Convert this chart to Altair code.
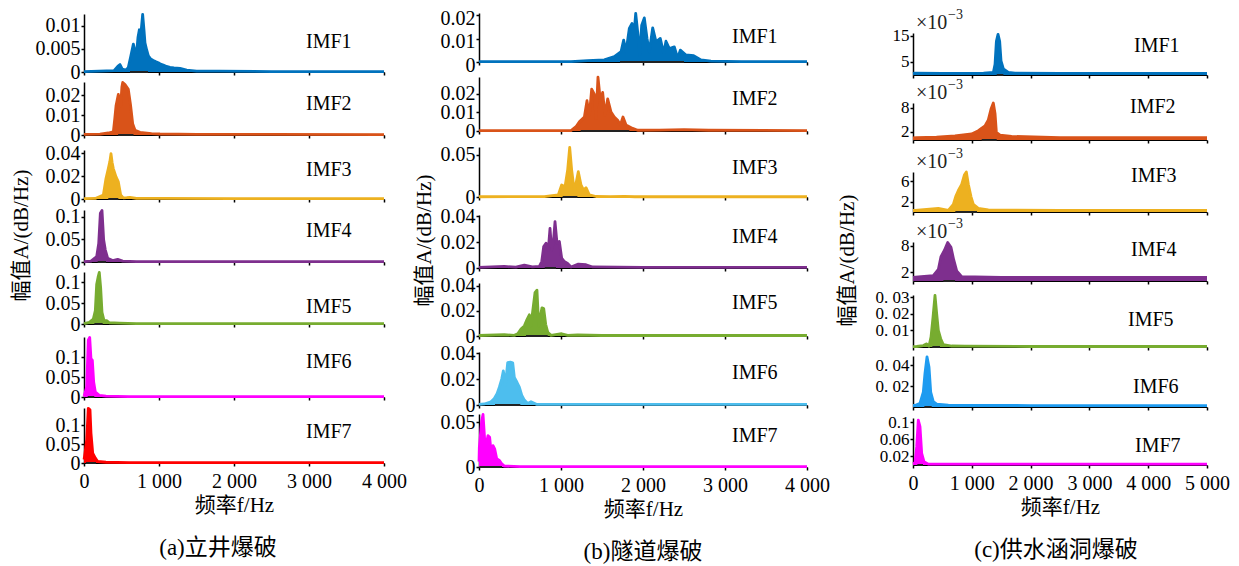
import altair as alt
import pandas as pd

# ---------------- data: (a) 立井爆破 ----------------
A1_F = [0, 200, 400, 450, 480, 510, 560, 591, 625, 658, 680, 702, 720, 738, 760, 782, 800, 813, 835, 858, 890, 924, 960, 991, 1020, 1058, 1100, 1147, 1200, 1280, 1369, 1502, 1800, 2500, 3200, 4000]
A1_A = [0.0001, 0.0002, 0.0003, 0.0012, 0.0016, 0.0006, 0.0004, 0.0010, 0.0035, 0.0060, 0.0045, 0.0042, 0.0075, 0.0091, 0.0085, 0.0124, 0.0090, 0.0063, 0.0048, 0.0035, 0.0028, 0.0025, 0.0022, 0.0020, 0.0017, 0.0015, 0.0012, 0.0010, 0.0009, 0.0008, 0.0004, 0.0002, 0.0002, 0.0001, 0.0001, 0.0001]
A2_F = [0, 213, 324, 391, 410, 427, 458, 475, 489, 505, 516, 547, 591, 622, 649, 680, 747, 900, 1013, 1500, 2500, 4000]
A2_A = [0.0003, 0.0004, 0.0010, 0.0016, 0.0080, 0.0146, 0.0203, 0.0170, 0.0146, 0.0240, 0.0263, 0.0252, 0.0228, 0.0146, 0.0057, 0.0024, 0.0013, 0.0007, 0.0005, 0.0003, 0.0003, 0.0002]
A3_F = [0, 150, 258, 293, 324, 345, 360, 375, 391, 427, 458, 489, 524, 570, 613, 700, 1000, 2000, 4000]
A3_A = [0.0004, 0.0005, 0.0035, 0.0180, 0.0267, 0.0330, 0.0397, 0.0320, 0.0267, 0.0194, 0.0150, 0.0035, 0.0010, 0.0012, 0.0015, 0.0006, 0.0005, 0.0004, 0.0003]
A4_F = [0, 93, 169, 196, 218, 240, 262, 284, 316, 382, 449, 516, 700, 1500, 4000]
A4_A = [0.001, 0.002, 0.012, 0.041, 0.108, 0.114, 0.049, 0.027, 0.008, 0.003, 0.006, 0.002, 0.001, 0.001, 0.001]
A5_F = [0, 71, 124, 151, 169, 187, 204, 222, 240, 267, 302, 338, 471, 700, 1500, 4000]
A5_A = [0.001, 0.004, 0.012, 0.032, 0.095, 0.111, 0.123, 0.087, 0.028, 0.008, 0.008, 0.003, 0.002, 0.001, 0.001, 0.001]
A6_F = [0, 4, 36, 57, 76, 93, 111, 129, 151, 204, 293, 600, 1500, 4000]
A6_A = [0.002, 0.004, 0.025, 0.142, 0.149, 0.096, 0.092, 0.0375, 0.0125, 0.004, 0.002, 0.001, 0.001, 0.001]
A7_F = [0, 4, 36, 57, 80, 93, 116, 151, 183, 293, 600, 1500, 4000]
A7_A = [0.009, 0.013, 0.061, 0.144, 0.140, 0.079, 0.026, 0.013, 0.004, 0.002, 0.001, 0.001, 0.001]
A_SEG = [[613, 853], [455, 660], [324, 458], [182, 293], [138, 249], [49, 137], [27, 160]]

# ---------------- data: (b) 隧道爆破 ----------------
B1_F = [0, 500, 1122, 1325, 1528, 1650, 1732, 1764, 1793, 1833, 1866, 1886, 1911, 1935, 1959, 1984, 2016, 2049, 2077, 2118, 2159, 2211, 2252, 2280, 2321, 2382, 2423, 2455, 2524, 2618, 2707, 2829, 3200, 4000]
B1_A = [0.0002, 0.0002, 0.0002, 0.0006, 0.0009, 0.0023, 0.0044, 0.0094, 0.0044, 0.0144, 0.0165, 0.0101, 0.0208, 0.0129, 0.0030, 0.0158, 0.0189, 0.0101, 0.0044, 0.0146, 0.0086, 0.0101, 0.0037, 0.0089, 0.0058, 0.0065, 0.0016, 0.0051, 0.0030, 0.0027, 0.0009, 0.0004, 0.0002, 0.0002]
B2_F = [0, 1000, 1122, 1183, 1224, 1285, 1317, 1346, 1374, 1406, 1427, 1451, 1480, 1508, 1537, 1569, 1610, 1650, 1691, 1724, 1756, 1793, 1874, 1935, 2200, 2500, 2800, 4000]
B2_A = [0.0002, 0.0002, 0.0002, 0.0023, 0.0049, 0.0075, 0.0163, 0.0084, 0.0225, 0.0198, 0.0067, 0.0289, 0.0163, 0.0207, 0.0084, 0.0172, 0.0102, 0.0075, 0.0058, 0.0032, 0.0075, 0.0032, 0.0014, 0.0004, 0.0005, 0.0007, 0.0004, 0.0002]
B3_F = [0, 797, 967, 1008, 1049, 1081, 1106, 1130, 1163, 1187, 1211, 1244, 1276, 1305, 1346, 1427, 1600, 1772, 1900, 4000]
B3_A = [0.0003, 0.0004, 0.0024, 0.0143, 0.0123, 0.0321, 0.0590, 0.0321, 0.0063, 0.0182, 0.0301, 0.0143, 0.0083, 0.0111, 0.0024, 0.0006, 0.0004, 0.0008, 0.0003, 0.0003]
B4_F = [0, 309, 450, 553, 650, 736, 765, 789, 817, 845, 866, 886, 906, 927, 951, 980, 1008, 1041, 1081, 1122, 1211, 1305, 1386, 2000, 4000]
B4_A = [0.0005, 0.0012, 0.0006, 0.0023, 0.0008, 0.0012, 0.0050, 0.0166, 0.0192, 0.0140, 0.0307, 0.0140, 0.0192, 0.0358, 0.0192, 0.0205, 0.0077, 0.0050, 0.0035, 0.0008, 0.0030, 0.0025, 0.0008, 0.0005, 0.0005]
B5_F = [0, 309, 431, 472, 512, 553, 585, 614, 634, 659, 683, 707, 728, 748, 768, 789, 813, 838, 878, 1008, 1081, 1203, 1500, 4000]
B5_A = [0.0004, 0.0010, 0.0005, 0.0018, 0.0055, 0.0080, 0.0130, 0.0168, 0.0080, 0.0218, 0.0343, 0.0363, 0.0080, 0.0155, 0.0223, 0.0218, 0.0093, 0.0030, 0.0005, 0.0018, 0.0005, 0.0008, 0.0004, 0.0004]
B6_F = [0, 65, 146, 187, 220, 248, 277, 297, 321, 350, 382, 411, 431, 463, 492, 521, 553, 594, 634, 700, 1500, 4000]
B6_A = [0.0005, 0.0008, 0.0025, 0.0050, 0.0088, 0.0138, 0.0200, 0.0264, 0.0151, 0.0327, 0.0332, 0.0327, 0.0214, 0.0176, 0.0138, 0.0076, 0.0038, 0.0012, 0.0025, 0.0005, 0.0005, 0.0005]
B7_F = [0, 4, 33, 49, 70, 89, 110, 130, 150, 171, 191, 216, 248, 277, 309, 500, 1500, 4000]
B7_A = [0.006, 0.022, 0.052, 0.059, 0.0296, 0.026, 0.0352, 0.0333, 0.0148, 0.024, 0.0204, 0.0093, 0.0074, 0.0037, 0.001, 0.0005, 0.0005, 0.0005]
B_SEG = [[1720, 2500], [1240, 1833], [1020, 1200], [802, 939], [573, 838], [195, 504], [4, 280]]

# ---------------- data: (c) 供水涵洞爆破 ----------------
C1_F = [0, 34, 500, 998, 1200, 1367, 1395, 1418, 1446, 1474, 1497, 1537, 1622, 1735, 2500, 5000]
C1_A = [0.0006, 0.0007, 0.0006, 0.0006, 0.0007, 0.0010, 0.0041, 0.0128, 0.0155, 0.0128, 0.0054, 0.0023, 0.0010, 0.0007, 0.0006, 0.0006]
C2_F = [0, 63, 400, 714, 998, 1111, 1224, 1281, 1327, 1366, 1395, 1418, 1480, 1678, 2500, 5000]
C2_A = [0.0005, 0.0006, 0.0007, 0.0010, 0.0015, 0.0023, 0.0035, 0.0050, 0.0077, 0.0092, 0.0066, 0.0019, 0.0012, 0.0009, 0.0006, 0.0006]
C3_F = [0, 34, 431, 601, 686, 726, 771, 828, 873, 907, 941, 986, 1026, 1111, 1281, 2500, 5000]
C3_A = [0.0003, 0.0003, 0.0007, 0.0003, 0.0015, 0.0030, 0.0042, 0.0054, 0.0072, 0.0078, 0.0054, 0.0030, 0.0015, 0.0007, 0.0004, 0.0003, 0.0003]
C4_F = [0, 90, 345, 431, 476, 533, 590, 646, 692, 743, 828, 1500, 5000]
C4_A = [0.0008, 0.0009, 0.0012, 0.0026, 0.0055, 0.0069, 0.0087, 0.0076, 0.0048, 0.0023, 0.0010, 0.0008, 0.0008]
C5_F = [0, 63, 175, 233, 272, 306, 340, 374, 403, 431, 471, 515, 658, 884, 2000, 5000]
C5_A = [0.0002, 0.0003, 0.0009, 0.0019, 0.0005, 0.0060, 0.0180, 0.0312, 0.0201, 0.0100, 0.0050, 0.0015, 0.0006, 0.0005, 0.0003, 0.0003]
C6_F = [0, 34, 119, 175, 204, 238, 272, 301, 345, 403, 601, 2000, 5000]
C6_A = [0.0015, 0.0015, 0.0036, 0.0143, 0.0325, 0.0482, 0.0385, 0.0143, 0.0052, 0.0027, 0.0018, 0.0014, 0.0014]
C7_F = [0, 34, 63, 90, 119, 148, 187, 260, 1000, 5000]
C7_A = [0.003, 0.005, 0.043, 0.105, 0.090, 0.027, 0.008, 0.002, 0.002, 0.002]
C_SEG = [[1424, 1537], [1168, 1424], [720, 1088], [516, 715], [329, 459], [193, 318], [74, 170]]

IMF_LABELS = ["IMF1", "IMF2", "IMF3", "IMF4", "IMF5", "IMF6", "IMF7"]
CAPTIONS = ["(a)立井爆破", "(b)隧道爆破", "(c)供水涵洞爆破"]
X_TITLE = "频率f/Hz"
Y_TITLE = "幅值A/(dB/Hz)"

# y domains and tick values
A_YDOM = [0.0125, 0.0265, 0.043, 0.115, 0.124, 0.15, 0.145]
A_YTICKS = [[0, 0.005, 0.01], [0, 0.01, 0.02], [0, 0.02, 0.04], [0, 0.05, 0.1], [0, 0.05, 0.1], [0, 0.05, 0.1], [0, 0.05, 0.1]]
B_YDOM = [0.021, 0.029, 0.0595, 0.041, 0.042, 0.041, 0.0595]
B_YTICKS = [[0, 0.01, 0.02], [0, 0.01, 0.02], [0, 0.05], [0, 0.02, 0.04], [0, 0.02, 0.04], [0, 0.02, 0.04], [0, 0.05]]
C_YDOM = [0.016, 0.0092, 0.0078, 0.0088, 0.0315, 0.049, 0.11]
C_YTICKS = [[0.005, 0.015], [0.002, 0.008], [0.002, 0.006], [0.002, 0.008], [0.01, 0.02, 0.03], [0.02, 0.04], [0.02, 0.06, 0.1]]

# ---------------- styling ----------------
SERIF = "Liberation Serif, Noto Sans CJK SC"
COL_A = ["#0072BD", "#D95319", "#EDB120", "#7E2F8E", "#77AC30", "#FF00FF", "#FF0000"]
COL_B = ["#0072BD", "#D95319", "#EDB120", "#7E2F8E", "#77AC30", "#4DBEEE", "#FF00FF"]
COL_C = ["#0072BD", "#D95319", "#EDB120", "#7E2F8E", "#77AC30", "#1E9BF0", "#FF00FF"]

X_LABEL_EXPR = "replace(format(datum.value, ','), ',', ' ')"


def panel(F, A, color, ymax, yticks, xmax, width, height, top, label, lx, ly, seg,
          E, tp, lab_fs, ylabel_expr=None, bottom=False, ytitle=None, title_y=0,
          exp_y=None, caption=None, cap_dx=0, lab_off=0):
    df = pd.DataFrame({"f": F, "a": A})
    xscale = alt.Scale(domain=[0, xmax], nice=False, zero=False)
    yscale = alt.Scale(domain=[0, ymax], nice=False, zero=False, range=[height, top])
    xkw = dict(values=list(range(0, xmax + 1, 1000)), grid=False, domainColor="black",
               domainWidth=1, tickColor="black", tickSize=3, tickWidth=1.5,
               labelFlush=False, labelOverlap=False)
    if bottom:
        xaxis = alt.Axis(labels=True, labelExpr=X_LABEL_EXPR, labelFont=SERIF,
                         labelFontSize=20, labelColor="black", labelPadding=5,
                         titleFont=SERIF, titleFontSize=21, titleFontWeight="normal",
                         titleColor="black", titlePadding=3, **xkw)
        xtitle = X_TITLE
    else:
        xaxis = alt.Axis(labels=False, **xkw)
        xtitle = None
    ykw = dict(values=yticks, grid=False, domainColor="black", domainWidth=1.5,
               tickColor="black", tickSize=3, tickWidth=1.5, labelFont=SERIF,
               labelFontSize=lab_fs, labelColor="black", labelPadding=1,
               labelOverlap=False, labelFlush=False, minExtent=E, maxExtent=E)
    if lab_off:
        ykw["labelOffset"] = lab_off
    if ylabel_expr:
        ykw["labelExpr"] = ylabel_expr
    else:
        ykw["format"] = "~g"
    if ytitle:
        ykw.update(titleFont=SERIF, titleFontSize=21, titleFontWeight="normal",
                   titleColor="black", titlePadding=tp, titleY=title_y)
    yaxis = alt.Axis(**ykw)

    def xenc():
        return alt.X("f:Q", scale=xscale, axis=xaxis, title=xtitle)

    def yenc():
        return alt.Y("a:Q", scale=yscale, axis=yaxis, title=ytitle)

    base = alt.Chart(df)
    area = base.mark_area(color=color, opacity=1).encode(x=xenc(), y=yenc())
    line = base.mark_line(color=color, strokeWidth=2.8, strokeJoin="round").encode(x=xenc(), y=yenc())
    segdf = pd.DataFrame({"f": [seg[0]], "f2": [seg[1]], "a": [0.0]})
    segm = alt.Chart(segdf).mark_rule(color="#222222", strokeWidth=2).encode(
        x=xenc(), x2=alt.X2("f2:Q"), y=yenc())
    one = pd.DataFrame({"k": [0]})
    txt = alt.Chart(one).mark_text(font=SERIF, fontSize=20, align="left",
                                   baseline="middle", color="black").encode(
        x=alt.value(lx), y=alt.value(ly), text=alt.value(label))
    layers = [area, line, segm, txt]
    if exp_y is not None:
        t1 = alt.Chart(one).mark_text(font=SERIF, fontSize=20, align="left",
                                      baseline="middle", color="#222222").encode(
            x=alt.value(3), y=alt.value(exp_y), text=alt.value("×10"))
        t2 = alt.Chart(one).mark_text(font=SERIF, fontSize=14, align="left",
                                      baseline="middle", color="#222222").encode(
            x=alt.value(35), y=alt.value(exp_y - 8), text=alt.value("−3"))
        layers += [t1, t2]
    ch = alt.layer(*layers).properties(width=width, height=height)
    if caption:
        ch = ch.properties(title=alt.TitleParams(
            text=caption, orient="bottom", anchor="middle", frame="group",
            offset=22, fontSize=23, font=SERIF, fontWeight="normal",
            color="black", dx=cap_dx))
    return ch


def column(Fs, As, colors, ymaxs, yticks, xmax, width, Hs, Ts, lxs, lys, segs,
           E, tp, lab_fs, yexprs, title_y, exp_ys, caption, cap_dx, lab_offs):
    charts = []
    for i in range(7):
        charts.append(panel(
            Fs[i], As[i], colors[i], ymaxs[i], yticks[i], xmax, width, Hs[i], Ts[i],
            IMF_LABELS[i], lxs[i], lys[i], segs[i], E, tp, lab_fs,
            ylabel_expr=yexprs[i], bottom=(i == 6),
            ytitle=(Y_TITLE if i == 3 else None), title_y=title_y,
            exp_y=exp_ys[i], caption=(caption if i == 6 else None), cap_dx=cap_dx,
            lab_off=lab_offs[i]))
    return alt.vconcat(*charts, spacing=0, bounds="flush")


colA = column(
    [A1_F, A2_F, A3_F, A4_F, A5_F, A6_F, A7_F],
    [A1_A, A2_A, A3_A, A4_A, A5_A, A6_A, A7_A],
    COL_A, A_YDOM, A_YTICKS, 4000, 300,
    [64, 63, 64, 63, 62, 73, 66], [6, 10, 15, 11, 10, 13, 11],
    [222] * 7, [34, 32, 35, 32, 45, 38, 35], A_SEG,
    46, 6.5, 20, [None] * 7, 36, [None] * 7, CAPTIONS[0], -16, [0] * 7)

colB = column(
    [B1_F, B2_F, B3_F, B4_F, B5_F, B6_F, B7_F],
    [B1_A, B2_A, B3_A, B4_A, B5_A, B6_A, B7_A],
    COL_B, B_YDOM, B_YTICKS, 4000, 328,
    [54, 69, 66, 71, 68, 69, 62], [5, 15, 16, 18, 15, 16, 9],
    [253] * 7, [29, 37, 37, 40, 35, 37, 31], B_SEG,
    36, 8.5, 20, [None] * 7, 43, [None] * 7, CAPTIONS[1], 0, [3, 0, 0, 0, 0, 0, 0])

EXP_EXPR = "format(datum.value * 1000, 'd')"
SP_EXPR = "replace(format(datum.value, '.2f'), '.', '. ')"
colC = column(
    [C1_F, C2_F, C3_F, C4_F, C5_F, C6_F, C7_F],
    [C1_A, C2_A, C3_A, C4_A, C5_A, C6_A, C7_A],
    COL_C, C_YDOM, C_YTICKS, 5000, 294,
    [67, 65, 72, 69, 66, 60, 58], [25, 28, 32, 30, 14, 9, 11],
    [221, 217, 218, 218, 215, 220, 222], [38, 32, 36, 38, 39, 40, 39], C_SEG,
    36, 19.5, 17, [EXP_EXPR] * 4 + [SP_EXPR, SP_EXPR, None], 48,
    [15, 18, 22, 20, None, None, None], CAPTIONS[2], -4, [0] * 7)

chart = alt.hconcat(colA, colB, colC, spacing=6).properties(
    padding={"left": 2, "top": 0, "right": 0, "bottom": 0},
    background="white"
).configure_view(stroke=None)

chart.save("out.html", embed_options={"renderer": "svg", "actions": False})
